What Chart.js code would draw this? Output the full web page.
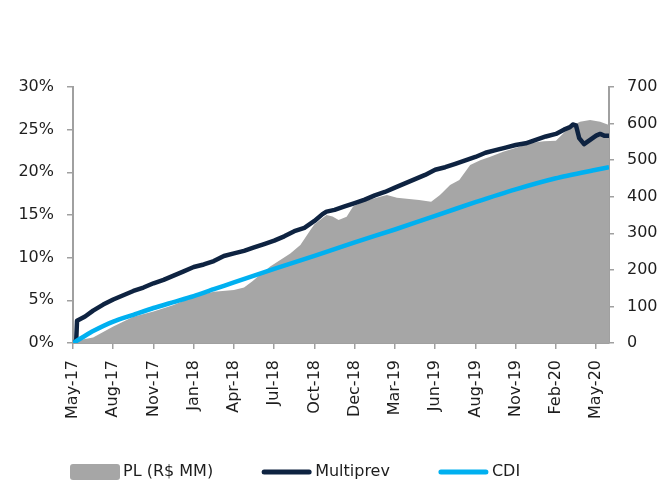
<!DOCTYPE html>
<html>
<head>
<meta charset="utf-8">
<script src="https://cdn.jsdelivr.net/npm/chart.js@4"></script>
<style>
  html, body { margin: 0; padding: 0; background: #ffffff; }
  #wrap { width: 665px; height: 482px; }
</style>
</head>
<body>
<div id="wrap"><canvas id="c" width="665" height="482"></canvas></div>
<script>
// ---- data (positions are in units of x-axis label intervals) ----
const tickLabels = ['May-17','Aug-17','Nov-17','Jan-18','Apr-18','Jul-18','Oct-18','Dec-18','Mar-19','Jun-19','Aug-19','Nov-19','Feb-20','May-20'];
const xMax = 13.32;

const plPos    = [0, 0.5, 1, 1.5, 2, 2.5, 3, 3.5, 4, 4.25, 4.45, 4.9, 5.4, 5.65, 5.9, 6.0, 6.3, 6.45, 6.6, 6.8, 6.96, 7.2, 7.63, 7.8, 8.05, 8.6, 8.9, 9.12, 9.37, 9.6, 9.87, 10.12, 10.37, 10.69, 11.11, 11.37, 11.7, 12.0, 12.2, 12.35, 12.6, 12.85, 13.1, 13.32];
const plValues = [5, 15, 45, 72, 86, 104, 127, 140, 145, 152, 168, 209, 245, 268, 309, 325, 350, 346, 336, 345, 373, 386, 400, 405, 397, 391, 386, 405, 432, 446, 487, 500, 509, 523, 537, 547, 552, 553, 575, 591, 605, 610, 605, 596];

const multiprevPos    = [0, 0.08, 0.1, 0.3, 0.5, 0.75, 1, 1.25, 1.5, 1.75, 2, 2.25, 2.5, 2.75, 3, 3.25, 3.5, 3.75, 4, 4.25, 4.5, 4.75, 5, 5.25, 5.5, 5.75, 6, 6.2, 6.3, 6.5, 6.75, 7, 7.25, 7.5, 7.75, 8, 8.25, 8.5, 8.75, 9, 9.25, 9.5, 9.75, 10, 10.25, 10.5, 10.75, 11, 11.25, 11.5, 11.75, 12, 12.2, 12.35, 12.42, 12.5, 12.58, 12.7, 12.85, 13, 13.1, 13.2, 13.32];
const multiprevValues = [0.0, 0.3, 2.6, 3.1, 3.8, 4.5, 5.1, 5.6, 6.1, 6.5, 7.0, 7.4, 7.9, 8.4, 8.9, 9.2, 9.6, 10.2, 10.5, 10.8, 11.2, 11.6, 12.0, 12.5, 13.1, 13.5, 14.3, 15.1, 15.4, 15.6, 16.0, 16.4, 16.8, 17.3, 17.7, 18.2, 18.7, 19.2, 19.7, 20.3, 20.6, 21.0, 21.4, 21.8, 22.3, 22.6, 22.9, 23.2, 23.4, 23.8, 24.2, 24.5, 25.0, 25.3, 25.6, 25.5, 24.0, 23.3, 23.8, 24.3, 24.5, 24.3, 24.3];

const cdiPos    = [0, 0.25, 0.5, 1, 1.5, 2, 2.5, 3, 3.5, 4, 5, 6, 7, 8, 9, 10, 11, 12, 13, 13.32];
const cdiValues = [0.0, 0.7, 1.4, 2.5, 3.3, 4.1, 4.8, 5.5, 6.3, 7.1, 8.7, 10.2, 11.8, 13.3, 14.9, 16.5, 18.0, 19.3, 20.3, 20.6];

const seriesNames = ['PL (R$ MM)', 'Multiprev', 'CDI'];

// ---- styles ----
const GRAY = '#a6a6a6';
const NAVY = '#0e2341';
const BLUE = '#00b0f0';
const AXIS = '#a0a0a0';
const TEXT = '#1e1e1e';
const FONT = { family: '"DejaVu Sans", Verdana, sans-serif', size: 16 };

const toPoints = (xs, ys) => xs.map((x, i) => ({ x: x, y: ys[i] }));

// custom bottom legend
const bottomLegend = {
  id: 'bottomLegend',
  afterDraw(chart) {
    const ctx = chart.ctx;
    const ds = chart.data.datasets;
    const cy = 472;
    let x = 70;
    ctx.save();
    ctx.font = FONT.size + 'px ' + FONT.family;
    ctx.textBaseline = 'middle';
    ctx.textAlign = 'left';
    ds.forEach((d, i) => {
      if (d.fill) {
        ctx.fillStyle = d.backgroundColor;
        ctx.beginPath();
        if (ctx.roundRect) ctx.roundRect(x, cy - 8, 50, 16, 3); else ctx.rect(x, cy - 8, 50, 16);
        ctx.fill();
      } else {
        ctx.strokeStyle = d.borderColor;
        ctx.lineWidth = 5;
        ctx.lineCap = 'round';
        ctx.beginPath();
        ctx.moveTo(x + 2, cy);
        ctx.lineTo(x + 47, cy);
        ctx.stroke();
      }
      x += 53;
      ctx.fillStyle = TEXT;
      ctx.fillText(d.label, x, cy);
      x += ctx.measureText(d.label).width + 49;
    });
    ctx.restore();
  }
};

new Chart(document.getElementById('c'), {
  type: 'line',
  data: {
    datasets: [
      {
        label: seriesNames[0],
        data: toPoints(plPos, plValues),
        yAxisID: 'y1',
        fill: 'origin',
        backgroundColor: GRAY,
        borderColor: GRAY,
        borderWidth: 0,
        pointRadius: 0,
        tension: 0,
        order: 3
      },
      {
        label: seriesNames[1],
        data: toPoints(multiprevPos, multiprevValues),
        yAxisID: 'y',
        fill: false,
        borderColor: NAVY,
        backgroundColor: NAVY,
        borderWidth: 4.5,
        pointRadius: 0,
        tension: 0,
        borderJoinStyle: 'round',
        order: 2
      },
      {
        label: seriesNames[2],
        data: toPoints(cdiPos, cdiValues),
        yAxisID: 'y',
        fill: false,
        borderColor: BLUE,
        backgroundColor: BLUE,
        borderWidth: 4.5,
        pointRadius: 0,
        tension: 0.2,
        borderJoinStyle: 'round',
        order: 1
      }
    ]
  },
  options: {
    responsive: false,
    animation: false,
    devicePixelRatio: 1,
    layout: { padding: { top: 87, left: 0, right: 0, bottom: 0 } },
    plugins: {
      legend: { display: false },
      tooltip: { enabled: false }
    },
    scales: {
      x: {
        type: 'linear',
        min: 0,
        max: xMax,
        offset: false,
        z: 1,
        afterFit(scale) { scale.height = 139; },
        afterBuildTicks(scale) { scale.ticks = tickLabels.map((_, i) => ({ value: i })); },
        ticks: {
          autoSkip: false,
          includeBounds: false,
          maxRotation: 90,
          minRotation: 90,
          padding: 11,
          color: TEXT,
          font: FONT,
          callback: (v) => tickLabels[Math.round(v)]
        },
        grid: { display: true, drawOnChartArea: false, drawTicks: true, tickLength: 6, color: AXIS, lineWidth: 1.5 },
        border: { display: true, color: AXIS, width: 2 }
      },
      y: {
        position: 'left',
        min: 0,
        max: 30,
        z: 1,
        afterFit(scale) { scale.width = 73; },
        ticks: {
          stepSize: 5,
          padding: 13,
          color: TEXT,
          font: FONT,
          callback: (v) => v + '%'
        },
        grid: { display: true, drawOnChartArea: false, drawTicks: true, tickLength: 6, color: AXIS, lineWidth: 1.5 },
        border: { display: true, color: AXIS, width: 2 }
      },
      y1: {
        position: 'right',
        min: 0,
        max: 700,
        z: 1,
        afterFit(scale) { scale.width = 56; },
        ticks: {
          stepSize: 100,
          padding: 13,
          color: TEXT,
          font: FONT
        },
        grid: { display: true, drawOnChartArea: false, drawTicks: true, tickLength: 5, color: AXIS, lineWidth: 1.5 },
        border: { display: true, color: AXIS, width: 2 }
      }
    }
  },
  plugins: [bottomLegend]
});
</script>
</body>
</html>
